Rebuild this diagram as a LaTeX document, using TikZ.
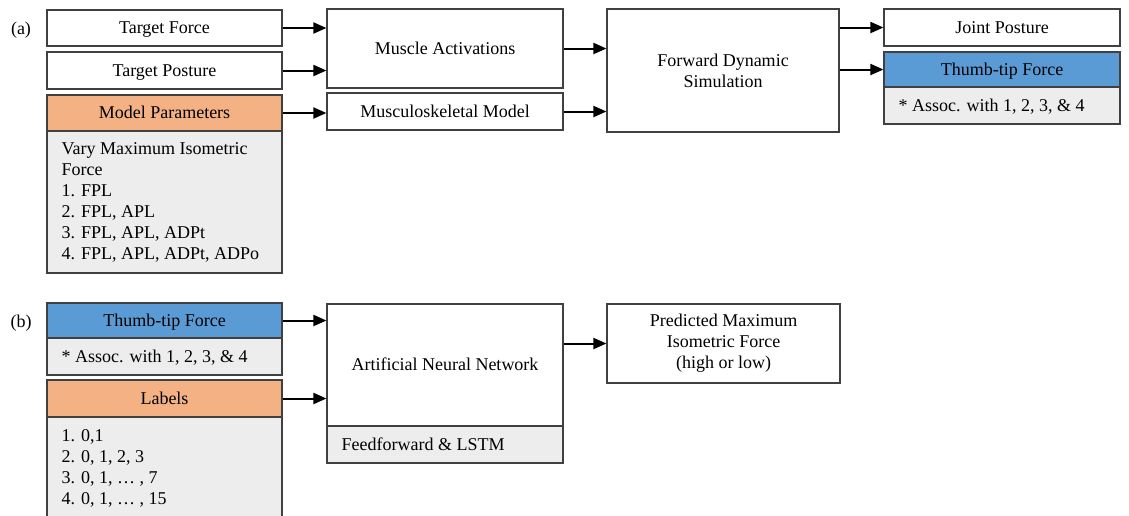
\documentclass[tikz,border=0pt]{standalone}
\usepackage{fontspec}
\setmainfont{Liberation Serif}
\usetikzlibrary{arrows.meta}
\definecolor{bord}{HTML}{404040}
\definecolor{hblue}{HTML}{5B9BD5}
\definecolor{horange}{HTML}{F4B183}
\definecolor{lgray}{HTML}{EDEDED}
\begin{document}
\begin{tikzpicture}[x=1pt,y=-1pt,
  font=\fontsize{18}{21}\selectfont,
  box/.style={draw=bord, line width=1.2pt, fill=white, minimum width=235pt, inner sep=0pt, align=center},
  one/.style={text height=14pt, text depth=3pt},
  btext/.style={align=left, inner xsep=15pt, inner ysep=0pt},
  arr/.style={-{Triangle[length=13pt,width=11pt]}, line width=2pt, black}]
\clip (0,0) rectangle (1129,515);
\fill[white] (0,0) rectangle (1129,515);
% (a)
\node[one] (la) at (21,29) {(a)};
\node[box, one, minimum height=36pt] (tf) at (164.5,28) {Target Force};
\node[box, one, minimum height=37pt] (tp) at (164.5,70.5) {Target Posture};
\node[box, one, fill=horange, minimum height=36pt] (mp) at (164.5,113) {Model Parameters};
\node[box, fill=lgray, minimum height=142pt] (mpb) at (164.5,202) {};
\node[btext, anchor=west] (mpt) at (mpb.west) {Vary Maximum Isometric\\Force\\1. FPL\\2. FPL, APL\\3. FPL, APL, ADPt\\4. FPL, APL, ADPt, ADPo};
\node[box, one, minimum width=236pt, minimum height=79pt] (ma) at (445,48.5) {Muscle Activations};
\node[box, one, minimum width=236pt, minimum height=37pt] (mm) at (445,111.5) {Musculoskeletal Model};
\node[box, minimum width=232pt, minimum height=123pt] (fds) at (723,70.5) {Forward Dynamic\\Simulation};
\node[box, one, minimum width=236pt, minimum height=37pt] (jp) at (1002,27.5) {Joint Posture};
\node[box, one, fill=hblue, minimum width=236pt, minimum height=35pt] (tt) at (1002,69.5) {Thumb-tip Force};
\node[box, fill=lgray, minimum width=236pt, minimum height=37pt] (ttb) at (1002,105.5) {};
\node[btext, one, anchor=west] (ttt) at (ttb.west) {* Assoc. with 1, 2, 3, \& 4};
\draw[arr] (tf.east) -- (tf.east -| ma.west);
\draw[arr] (tp.east) -- (tp.east -| ma.west);
\draw[arr] (mp.east) -- (mp.east -| mm.west);
\draw[arr] (ma.east) -- (ma.east -| fds.west);
\draw[arr] (mm.east) -- (mm.east -| fds.west);
\draw[arr] (fds.east |- jp.west) -- (jp.west);
\draw[arr] (fds.east |- tt.west) -- (tt.west);
% (b)
\node[one] (lb) at (21,322) {(b)};
\node[box, one, fill=hblue, minimum height=35pt] (tt2) at (164.5,320.5) {Thumb-tip Force};
\node[box, fill=lgray, minimum height=37pt] (tt2b) at (164.5,356.5) {};
\node[btext, one, anchor=west] (tt2t) at (tt2b.west) {* Assoc. with 1, 2, 3, \& 4};
\node[box, one, fill=horange, minimum height=37pt] (lab) at (164.5,398.5) {Labels};
\node[box, fill=lgray, minimum height=113pt] (labb) at (164.5,473.5) {};
\node[btext, anchor=north west, yshift=-13pt] (labt) at (labb.north west) {1. 0,1\\2. 0, 1, 2, 3\\3. 0, 1, \dots\ , 7\\4. 0, 1, \dots\ , 15};
\node[box, one, minimum width=236pt, minimum height=122pt] (ann) at (445,365) {Artificial Neural Network};
\node[box, fill=lgray, minimum width=236pt, minimum height=37pt] (annb) at (445,444.5) {};
\node[btext, one, anchor=west] (annt) at (annb.west) {Feedforward \& LSTM};
\node[box, minimum width=233pt, minimum height=79pt] (pred) at (723.5,343.5) {Predicted Maximum\\Isometric Force\\(high or low)};
\draw[arr] (tt2.east) -- (tt2.east -| ann.west);
\draw[arr] (lab.east) -- (lab.east -| ann.west);
\draw[arr] (ann.east |- pred.west) -- (pred.west);
\end{tikzpicture}
\end{document}
